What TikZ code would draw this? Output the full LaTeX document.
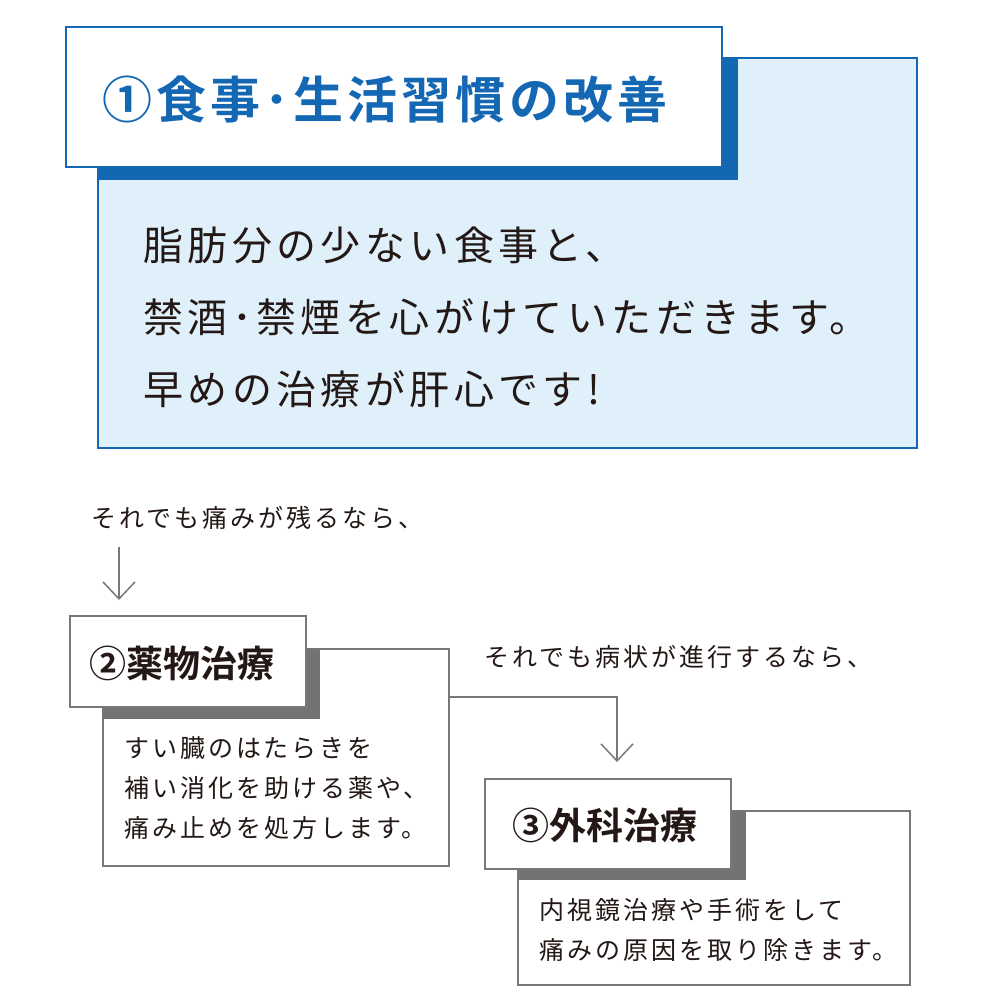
\documentclass[tikz,border=0pt]{standalone}
\usepackage{fontspec}
\setmainfont{Noto Sans CJK JP}[BoldFont={Noto Sans CJK JP Bold}]
\usetikzlibrary{arrows.meta,positioning}
\definecolor{kblue}{HTML}{1467B3}
\definecolor{klight}{HTML}{DFF0FA}
\definecolor{kink}{HTML}{231815}
\definecolor{kgray}{HTML}{787878}
\definecolor{kshade}{HTML}{737373}
\tikzset{
  boxbase/.style={anchor=north west, inner sep=0pt, outer sep=0pt},
  bluebody/.style={boxbase, draw=kblue, line width=2.5pt, fill=klight},
  blueshade/.style={boxbase, fill=kblue},
  bluetitle/.style={boxbase, draw=kblue, line width=2.5pt, fill=white},
  graybox/.style={boxbase, draw=kgray, line width=1.5pt, fill=white},
  grayshade/.style={boxbase, fill=kshade},
  txt/.style={anchor=west, inner sep=0pt, text=kink, align=left},
  smalltxt/.style={txt, font=\fontsize{25}{40}\selectfont\addfontfeature{LetterSpace=12}},
  headtxt/.style={txt, font=\fontsize{37}{44}\selectfont\bfseries},
  arr/.style={draw=kgray, line width=1.5pt, -{Straight Barb[length=17pt,width=32pt]}}
}
\begin{document}
\begin{tikzpicture}[x=1pt,y=-1pt]
\useasboundingbox (0,0) rectangle (1000,1000);

\node[bluebody, minimum width=819pt, minimum height=390pt] (body1) at (98,58) {};
\node[blueshade, minimum width=640pt, minimum height=122pt] (shade1) at (98,58) {};
\node[bluetitle, minimum width=656pt, minimum height=140pt] (title1) at (66,27) {};
\node[txt, text=kblue, font=\fontsize{50}{60}\selectfont\bfseries\addfontfeature{LetterSpace=8}] (head1) at (102,100) {①食事･生活習慣の改善};
\node[txt, font=\fontsize{40}{72}\selectfont\addfontfeature{LetterSpace=11}] (text1) at (143,317)
  {脂肪分の少ない食事と、\\禁酒･禁煙を心がけていただきます。\\早めの治療が肝心です!};

\node[smalltxt] (note1) at (91,518) {それでも痛みが残るなら、};
\coordinate (a1s) at (119,547);
\coordinate (a1e) at (119,600);
\draw[arr] (a1s) -- (a1e);

\node[graybox, minimum width=346pt, minimum height=217pt] (body2) at (103,649) {};
\node[grayshade, minimum width=217pt, minimum height=70pt] (shade2) at (103,649) {};
\node[graybox, minimum width=236pt, minimum height=91pt] (title2) at (70,616) {};
\node[headtxt] (head2) at (89,663) {②薬物治療};
\node[smalltxt] (text2) at (124,788)
  {すい臓のはたらきを\\補い消化を助ける薬や、\\痛み止めを処方します。};

\node[smalltxt] (note2) at (484,657) {それでも病状が進行するなら、};
\coordinate (a2s) at (449,697);
\coordinate (a2e) at (617,762);
\draw[arr] (a2s) -| (a2e);

\node[graybox, minimum width=392pt, minimum height=174pt] (body3) at (518,811) {};
\node[grayshade, minimum width=228pt, minimum height=69pt] (shade3) at (518,811) {};
\node[graybox, minimum width=246pt, minimum height=90pt] (title3) at (485,779) {};
\node[headtxt] (head3) at (512,825) {③外科治療};
\node[smalltxt] (text3) at (539,930)
  {内視鏡治療や手術をして\\痛みの原因を取り除きます。};
\end{tikzpicture}
\end{document}
